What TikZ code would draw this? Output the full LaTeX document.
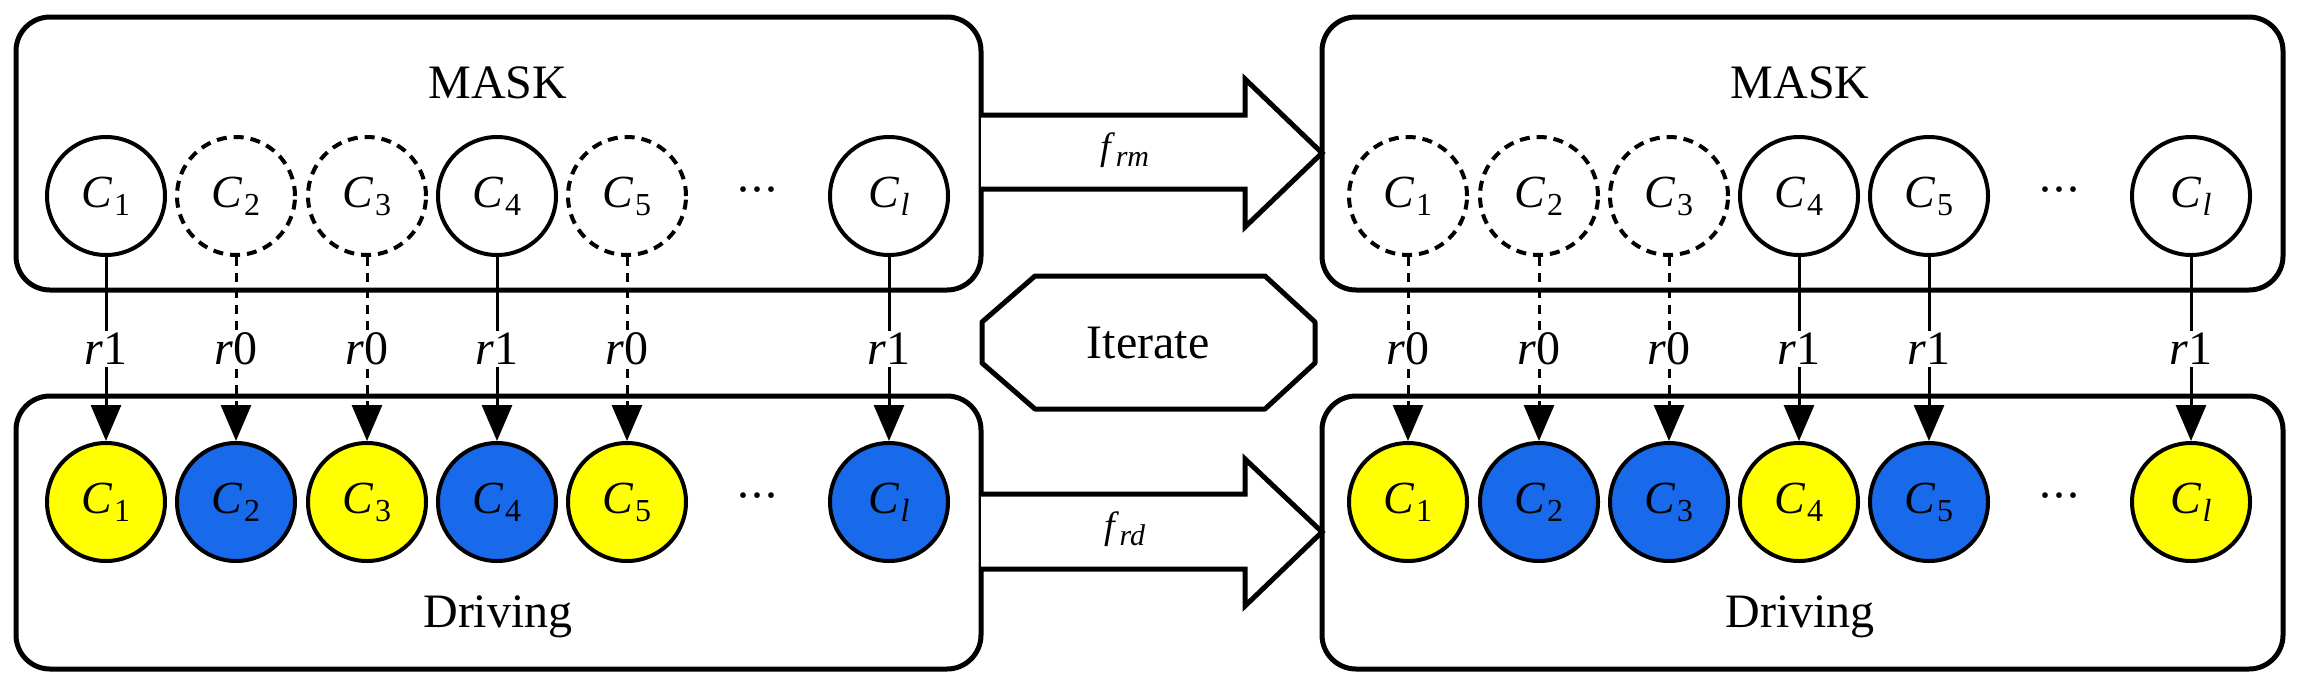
\documentclass[tikz,border=0pt]{standalone}
\usepackage{fontspec}
\setmainfont{Liberation Serif}
\usetikzlibrary{arrows.meta}
\definecolor{cy}{RGB}{255,255,0}
\definecolor{cb}{RGB}{25,105,235}
\newcommand{\ci}[1]{\textit{C}\kern1pt\raisebox{-8pt}{\fontsize{32}{32}\selectfont #1}}
\newcommand{\rl}[1]{\textit{r}#1}
\newcommand{\dts}{·\kern-2pt·\kern-2pt·}
\begin{document}
\begin{tikzpicture}[x=1pt,y=-1pt,
  box/.style={draw,line width=5pt,rounded corners=34pt},
  cir/.style={circle,draw,line width=4pt,minimum size=118pt,inner sep=0pt,font=\fontsize{46}{46}\selectfont},
  dcir/.style={cir,dash pattern=on 10pt off 7pt},
  lab/.style={font=\fontsize{48}{48}\selectfont,fill=white,inner sep=2pt},
  con/.style={line width=3pt,-{Triangle[length=36pt,width=30pt]}},
  dcon/.style={con,dash pattern=on 9pt off 7pt},
  big/.style={draw,line width=5pt,fill=white,line join=miter},
  ttl/.style={font=\fontsize{48}{48}\selectfont}]
\useasboundingbox (0,0) rectangle (2298,686);
% boxes
\draw[box] (16,17) rectangle (981,290);
\draw[box] (16,396) rectangle (981,669);
\draw[box] (1322,17) rectangle (2283,290);
\draw[box] (1322,396) rectangle (2283,669);
\node[ttl] (m1) at (498,83) {MASK};
\node[ttl] (m2) at (1800,83) {MASK};
\node[ttl] (d1) at (498,617) {Driving};
\node[ttl] (d2) at (1800,617) {Driving};
% big arrows
\draw[big] (981,115) -- (1245,115) -- (1245,79) -- (1322,153) -- (1245,227) -- (1245,189) -- (981,189);
\draw[big] (981,494) -- (1245,494) -- (1245,459) -- (1322,532) -- (1245,606) -- (1245,569) -- (981,569);
\node[font=\fontsize{38}{38}\selectfont] (frm) at (1125,150) {\textit{f}\raisebox{-7pt}{\fontsize{30}{30}\selectfont\textit{rm}}};
\node[font=\fontsize{38}{38}\selectfont] (frd) at (1125,529) {\textit{f}\raisebox{-7pt}{\fontsize{30}{30}\selectfont\textit{rd}}};
% iterate
\draw[line width=5pt,line join=round] (1035,276) -- (1265,276) -- (1315,322) -- (1315,363) -- (1265,409) -- (1035,409) -- (982,363) -- (982,322) -- cycle;
\node[ttl] (it) at (1148,343) {Iterate};
% left top
\node[cir] (a1) at (106,196) {\ci{1}};
\node[dcir] (a2) at (236,196) {\ci{2}};
\node[dcir] (a3) at (367,196) {\ci{3}};
\node[cir] (a4) at (497,196) {\ci{4}};
\node[dcir] (a5) at (627,196) {\ci{5}};
\node[ttl] (ad) at (757,196) {\dts};
\node[cir] (al) at (889,196) {\ci{\textit{l}}};
% left bottom
\node[cir,fill=cy] (b1) at (106,502) {\ci{1}};
\node[cir,fill=cb] (b2) at (236,502) {\ci{2}};
\node[cir,fill=cy] (b3) at (367,502) {\ci{3}};
\node[cir,fill=cb] (b4) at (497,502) {\ci{4}};
\node[cir,fill=cy] (b5) at (627,502) {\ci{5}};
\node[ttl] (bd) at (757,502) {\dts};
\node[cir,fill=cb] (bl) at (889,502) {\ci{\textit{l}}};
% right top
\node[dcir] (c1) at (1408,196) {\ci{1}};
\node[dcir] (c2) at (1539,196) {\ci{2}};
\node[dcir] (c3) at (1669,196) {\ci{3}};
\node[cir] (c4) at (1799,196) {\ci{4}};
\node[cir] (c5) at (1929,196) {\ci{5}};
\node[ttl] (cd) at (2059,196) {\dts};
\node[cir] (cl) at (2191,196) {\ci{\textit{l}}};
% right bottom
\node[cir,fill=cy] (e1) at (1408,502) {\ci{1}};
\node[cir,fill=cb] (e2) at (1539,502) {\ci{2}};
\node[cir,fill=cb] (e3) at (1669,502) {\ci{3}};
\node[cir,fill=cy] (e4) at (1799,502) {\ci{4}};
\node[cir,fill=cb] (e5) at (1929,502) {\ci{5}};
\node[ttl] (ed) at (2059,502) {\dts};
\node[cir,fill=cy] (el) at (2191,502) {\ci{\textit{l}}};
% connectors
\draw[con] (a1) -- node[lab]{\rl1} (b1);
\draw[dcon] (a2) -- node[lab]{\rl0} (b2);
\draw[dcon] (a3) -- node[lab]{\rl0} (b3);
\draw[con] (a4) -- node[lab]{\rl1} (b4);
\draw[dcon] (a5) -- node[lab]{\rl0} (b5);
\draw[con] (al) -- node[lab]{\rl1} (bl);
\draw[dcon] (c1) -- node[lab]{\rl0} (e1);
\draw[dcon] (c2) -- node[lab]{\rl0} (e2);
\draw[dcon] (c3) -- node[lab]{\rl0} (e3);
\draw[con] (c4) -- node[lab]{\rl1} (e4);
\draw[con] (c5) -- node[lab]{\rl1} (e5);
\draw[con] (cl) -- node[lab]{\rl1} (el);
\end{tikzpicture}
\end{document}
